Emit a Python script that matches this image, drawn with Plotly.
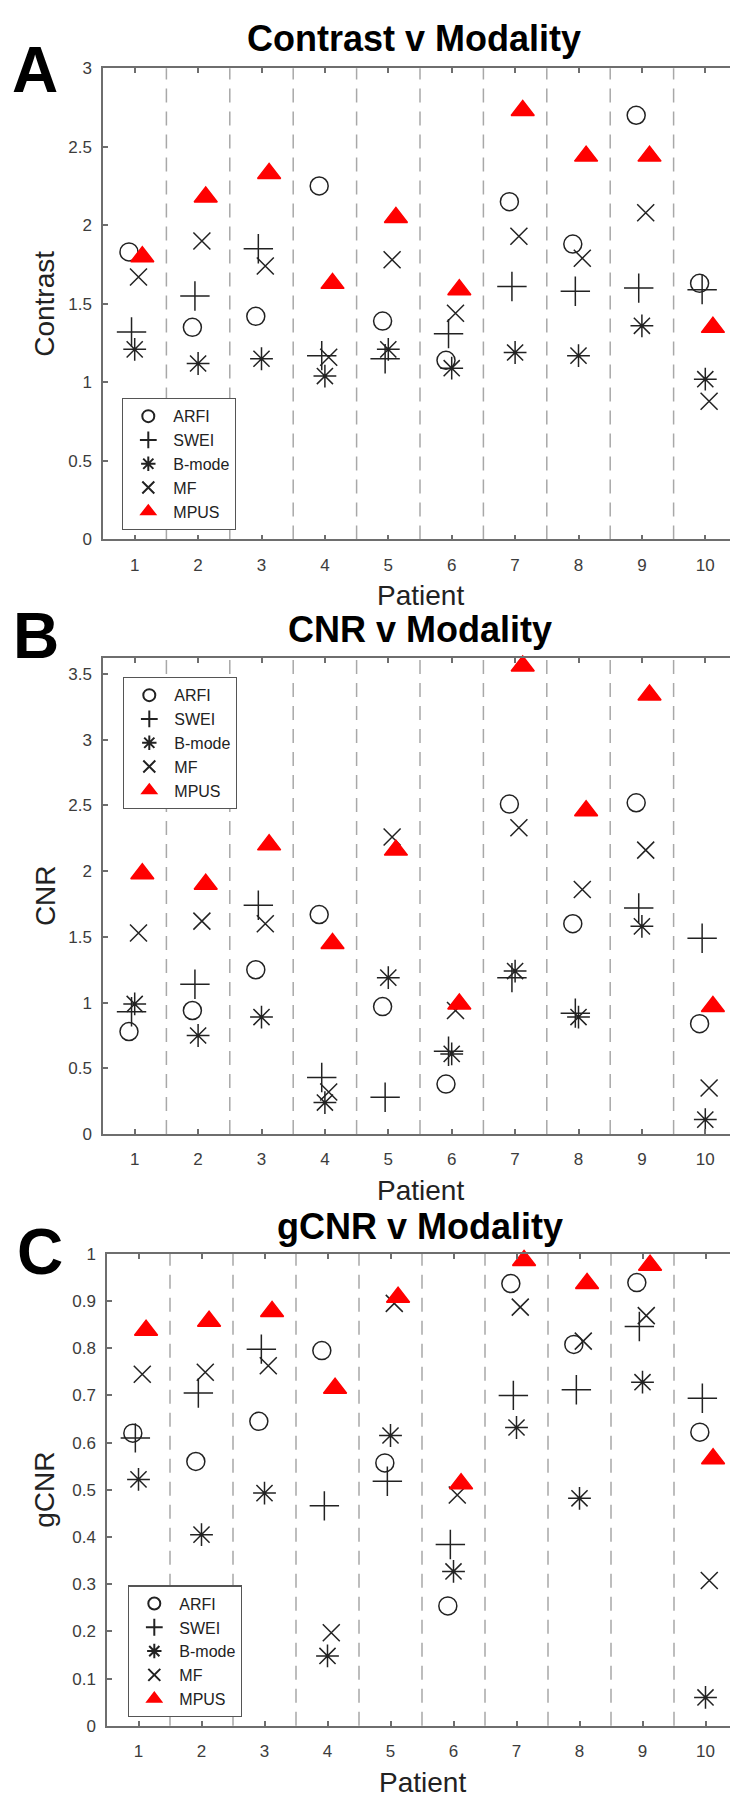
import plotly.graph_objects as go

# ---------------- data ----------------
patients = [1, 2, 3, 4, 5, 6, 7, 8, 9, 10]
modalities = ["ARFI", "SWEI", "B-mode", "MF", "MPUS"]

contrast_arfi = [1.83, 1.35, 1.42, 2.25, 1.39, 1.14, 2.15, 1.88, 2.70, 1.63]
contrast_swei = [1.32, 1.55, 1.85, 1.17, 1.15, 1.31, 1.61, 1.58, 1.60, 1.59]
contrast_bmode = [1.21, 1.12, 1.15, 1.04, 1.21, 1.09, 1.19, 1.17, 1.36, 1.02]
contrast_mf = [1.67, 1.90, 1.74, 1.16, 1.78, 1.44, 1.93, 1.79, 2.08, 0.88]
contrast_mpus = [1.80, 2.18, 2.33, 1.63, 2.05, 1.59, 2.73, 2.44, 2.44, 1.35]

cnr_arfi = [0.78, 0.94, 1.25, 1.67, 0.97, 0.38, 2.51, 1.60, 2.52, 0.84]
cnr_swei = [0.93, 1.14, 1.74, 0.43, 0.28, 0.63, 1.19, 0.92, 1.72, 1.49]
cnr_bmode = [0.99, 0.75, 0.89, 0.24, 1.19, 0.61, 1.24, 0.89, 1.58, 0.11]
cnr_mf = [1.53, 1.62, 1.60, 0.32, 2.26, 0.94, 2.33, 1.86, 2.16, 0.35]
cnr_mpus = [1.98, 1.90, 2.20, 1.45, 2.16, 0.99, 3.56, 2.46, 3.34, 0.97]

gcnr_arfi = [0.620, 0.560, 0.645, 0.795, 0.557, 0.254, 0.937, 0.808, 0.939, 0.622]
gcnr_swei = [0.610, 0.705, 0.798, 0.466, 0.518, 0.384, 0.700, 0.712, 0.846, 0.694]
gcnr_bmode = [0.522, 0.405, 0.493, 0.148, 0.615, 0.327, 0.632, 0.482, 0.728, 0.060]
gcnr_mf = [0.745, 0.749, 0.763, 0.197, 0.895, 0.489, 0.887, 0.815, 0.869, 0.308]
gcnr_mpus = [0.838, 0.857, 0.878, 0.715, 0.908, 0.513, 0.986, 0.937, 0.976, 0.566]

contrast_ticks = [0, 0.5, 1, 1.5, 2, 2.5, 3]
contrast_ticktext = ["0", "0.5", "1", "1.5", "2", "2.5", "3"]
cnr_ticks = [0, 0.5, 1, 1.5, 2, 2.5, 3, 3.5]
cnr_ticktext = ["0", "0.5", "1", "1.5", "2", "2.5", "3", "3.5"]
gcnr_ticks = [0, 0.1, 0.2, 0.3, 0.4, 0.5, 0.6, 0.7, 0.8, 0.9, 1]
gcnr_ticktext = ["0", "0.1", "0.2", "0.3", "0.4", "0.5", "0.6", "0.7", "0.8", "0.9", "1"]

# ---------------- styling ----------------
W, H = 738, 1800
FONT = "Liberation Sans, Arial, sans-serif"
INK = "#222222"
AXC = "#6e6e6e"
symbols = {
    "ARFI": ("circle-open", 18, INK),
    "SWEI": ("cross-thin-open", 21, INK),
    "B-mode": ("asterisk-open", 19, INK),
    "MF": ("x-thin-open", 17, INK),
    "MPUS": ("triangle-up", 20, "#ff0000"),
}
offsets = {"ARFI": -0.09, "SWEI": -0.05, "B-mode": 0.0, "MF": 0.06, "MPUS": 0.12}

panels = [
    dict(vals=[contrast_arfi, contrast_swei, contrast_bmode, contrast_mf, contrast_mpus],
         ylab="Contrast", title="Contrast v Modality", letter="A",
         top=51.7, bottom=528, left=95, right=729, yr=[0, 3],
         tv=contrast_ticks, tt=contrast_ticktext,
         leg=(114, 385), title_y=21.5, title_x=406, letter_xy=(27, 54)),
    dict(vals=[cnr_arfi, cnr_swei, cnr_bmode, cnr_mf, cnr_mpus],
         ylab="CNR", title="CNR v Modality", letter="B",
         top=648, bottom=1129, left=95, right=729, yr=[0, 3.62],
         tv=cnr_ticks, tt=cnr_ticktext,
         leg=(115, 667), title_y=619.5, title_x=412, letter_xy=(28, 626)),
    dict(vals=[gcnr_arfi, gcnr_swei, gcnr_bmode, gcnr_mf, gcnr_mpus],
         ylab="gCNR", title="gCNR v Modality", letter="C",
         top=1250, bottom=1727, left=99, right=729, yr=[0, 1],
         tv=gcnr_ticks, tt=gcnr_ticktext,
         leg=(120, 1585), title_y=1222, title_x=412, letter_xy=(32, 1248)),
]

fig = go.Figure()
shapes, annotations = [], []
layout = {}

for i, p in enumerate(panels):
    n = "" if i == 0 else str(i + 1)
    xa, ya = "x" + n, "y" + n
    legname = "legend" + n
    for name, vals in zip(modalities, p["vals"]):
        sym, size, col = symbols[name]
        fig.add_trace(go.Scatter(
            x=[pt + offsets[name] for pt in patients], y=vals,
            mode="markers", name=name, xaxis=xa, yaxis=ya, legend=legname,
            marker=dict(symbol=sym, size=size, color=col,
                        line=dict(width=1.5, color=col)),
            cliponaxis=False,
        ))
    axis_common = dict(showline=True, linecolor=AXC, linewidth=1.5, mirror="ticks",
                       ticks="inside", ticklen=5, tickwidth=1.5, tickcolor=AXC,
                       showgrid=False, zeroline=False,
                       tickfont=dict(family=FONT, size=17, color="#3c3c3c"))
    layout["xaxis" + n] = dict(axis_common, domain=[p["left"] / W, p["right"] / W],
                                anchor=ya, range=[0.5, 10.5],
                                tickvals=patients, ticktext=[str(v) for v in patients],
                                ticklabelstandoff=9)
    layout["yaxis" + n] = dict(axis_common, domain=[1 - p["bottom"] / H, 1 - p["top"] / H],
                                anchor=xa, range=p["yr"], tickvals=p["tv"], ticktext=p["tt"],
                                ticklabelstandoff=6)
    layout[legname] = dict(x=p["leg"][0] / W, y=1 - p["leg"][1] / H, xanchor="left",
                           yanchor="top", xref="paper", yref="paper",
                           bgcolor="white", bordercolor="#555555", borderwidth=1.3,
                           font=dict(family=FONT, size=16, color=INK),
                           itemsizing="constant", itemwidth=40, tracegroupgap=0)
    # dashed separators between patients
    for a, b in zip(patients[:-1], patients[1:]):
        shapes.append(dict(type="line", xref=xa, yref=ya + " domain",
                           x0=(a + b) / 2, x1=(a + b) / 2, y0=0, y1=1,
                           line=dict(color="#a8a8a8", width=1.5, dash="14px,9px"),
                           layer="below"))
    cx = (p["left"] + p["right"]) / 2 / W
    annotations.append(dict(text="<b>" + p["title"] + "</b>", x=p["title_x"] / W,
                            y=1 - p["title_y"] / H,
                            xref="paper", yref="paper", showarrow=False,
                            xanchor="center", yanchor="middle",
                            font=dict(family=FONT, size=36, color="#000")))
    annotations.append(dict(text="<b>" + p["letter"] + "</b>", x=p["letter_xy"][0] / W,
                            y=1 - p["letter_xy"][1] / H, xref="paper", yref="paper",
                            showarrow=False, xanchor="center", yanchor="middle",
                            font=dict(family=FONT, size=64, color="#000")))
    annotations.append(dict(text=p["ylab"], x=37 / W, y=1 - (p["top"] + p["bottom"]) / 2 / H,
                            xref="paper", yref="paper", showarrow=False, textangle=-90,
                            xanchor="center", yanchor="middle",
                            font=dict(family=FONT, size=28, color=INK)))
    annotations.append(dict(text="Patient", x=cx, y=1 - (p["bottom"] + 57) / H,
                            xref="paper", yref="paper", showarrow=False,
                            xanchor="center", yanchor="middle",
                            font=dict(family=FONT, size=28, color=INK)))

fig.update_layout(width=W, height=H, margin=dict(l=0, r=0, t=0, b=0),
                  paper_bgcolor="white", plot_bgcolor="white",
                  shapes=shapes, annotations=annotations, **layout)

fig.write_html("out.html")
